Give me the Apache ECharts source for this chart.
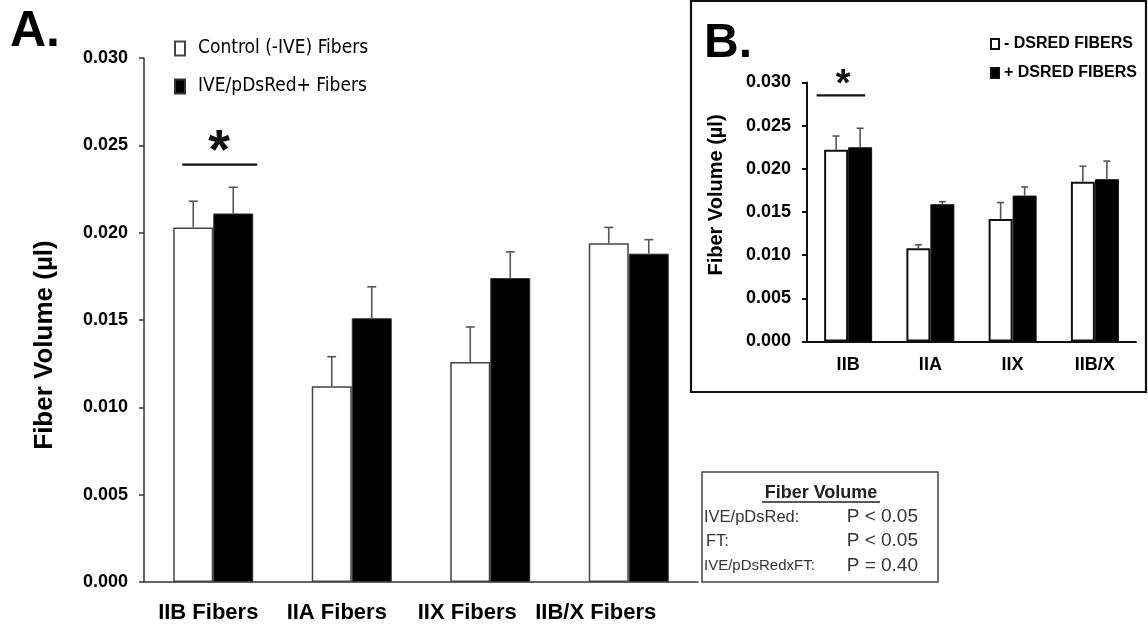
<!DOCTYPE html>
<html><head><meta charset="utf-8">
<script src="https://cdn.jsdelivr.net/npm/echarts@6.0.0/dist/echarts.min.js"></script>
<style>html,body{margin:0;padding:0;background:#fff}#c{width:1148px;height:630px}</style>
</head><body><div id="c"></div>
<script>
// ---- Data: panel A ----
const categoriesA = ['IIB Fibers', 'IIA Fibers', 'IIX Fibers', 'IIB/X Fibers'];
const controlA    = [0.0203, 0.0112, 0.0126, 0.0194];
const controlErrA = [0.0015, 0.0017, 0.0020, 0.0009];
const dsredA      = [0.0211, 0.0151, 0.0174, 0.0188];
const dsredErrA   = [0.0015, 0.0018, 0.0015, 0.0008];
// ---- Data: panel B ----
const categoriesB = ['IIB', 'IIA', 'IIX', 'IIB/X'];
const minusB      = [0.0222, 0.0108, 0.0142, 0.0185];
const minusErrB   = [0.0016, 0.0004, 0.0019, 0.0018];
const plusB       = [0.0225, 0.0159, 0.0169, 0.0188];
const plusErrB    = [0.0022, 0.0003, 0.0010, 0.0021];
// ---- Axis ----
const yMin = 0, yMax = 0.030, yStep = 0.005;
// ---- Significance (category index, bracket value, star value) ----
const sigA = [[0, 0.0239, 0.02456]];
const sigB = [[0, 0.0285, 0.0296]];
// ---- Stats text ----
const statsTitle = 'Fiber Volume';
const statsRows = [['IVE/pDsRed:', 'P < 0.05'], ['FT:', 'P < 0.05'], ['IVE/pDsRedxFT:', 'P = 0.40']];

// style: leftward shift (px) of each panel-A category label, as in the original layout
const labelShiftA = [5, 15, 23, 33];

const FONT = "'Liberation Sans', Arial, sans-serif";
const NARROW = "'Liberation Sans Narrow', 'DejaVu Sans Condensed', sans-serif";

function errData(vals, errs) { return vals.map((v, i) => [i, v, errs[i]]); }

function errSeries(name, vals, errs, axisIdx, offset, cap) {
  return {
    type: 'custom', name: name, xAxisIndex: axisIdx, yAxisIndex: axisIdx, z: 5,
    encode: { x: 0, y: 1 },
    data: errData(vals, errs),
    renderItem: function (params, api) {
      const c = api.value(0), v = api.value(1), e = api.value(2);
      const p0 = api.coord([c, v]);
      const p1 = api.coord([c, v + e]);
      const x = p0[0] + offset;
      const st = { stroke: '#555', lineWidth: 1.6 };
      return { type: 'group', children: [
        { type: 'line', shape: { x1: x, y1: p0[1], x2: x, y2: p1[1] }, style: st },
        { type: 'line', shape: { x1: x - cap, y1: p1[1], x2: x + cap, y2: p1[1] }, style: st }
      ]};
    }
  };
}

function sigSeries(data, axisIdx, left, right, starDx, starSize) {
  return {
    type: 'custom', xAxisIndex: axisIdx, yAxisIndex: axisIdx, z: 6,
    encode: { x: 0, y: 1 },
    data: data,
    renderItem: function (params, api) {
      const c = api.value(0);
      const p = api.coord([c, api.value(1)]);
      const s = api.coord([c, api.value(2)]);
      return { type: 'group', children: [
        { type: 'line', shape: { x1: p[0] + left, y1: p[1], x2: p[0] + right, y2: p[1] },
          style: { stroke: '#111', lineWidth: 2.2 } },
        { type: 'text', x: s[0] + starDx, y: s[1],
          style: { text: '*', fontSize: starSize, fontWeight: 'bold', fontFamily: FONT,
                   fill: '#111', align: 'center', verticalAlign: 'middle' } }
      ]};
    }
  };
}

const richA = {};
labelShiftA.forEach((s, i) => {
  richA['s' + i] = { fontSize: 22, fontWeight: 'bold', fontFamily: FONT, color: '#000', padding: [0, 2 * s, 0, 0] };
});

const yAxisCommon = {
  type: 'value', min: yMin, max: yMax, interval: yStep,
  splitLine: { show: false },
  axisLine: { show: true, lineStyle: { color: '#333', width: 1.5 } },
  axisTick: { show: true, length: 5, lineStyle: { color: '#333', width: 1.5 } },
  axisLabel: { formatter: v => v.toFixed(3), fontSize: 18, fontWeight: 'bold', fontFamily: FONT, color: '#000', margin: 16 }
};

const option = {
  animation: false,
  backgroundColor: '#fff',
  grid: [
    { left: 144, top: 58, width: 554, height: 524 },
    { left: 807, top: 82.5, width: 329, height: 259 }
  ],
  xAxis: [
    { type: 'category', gridIndex: 0, data: categoriesA,
      axisLine: { lineStyle: { color: '#333', width: 1.5 } },
      axisTick: { length: 6, lineStyle: { color: '#333', width: 1.5 } },
      axisLabel: { interval: 0, hideOverlap: false, fontSize: 22, fontWeight: 'bold', fontFamily: FONT, color: '#000', margin: 20,
                   formatter: (val, idx) => '{s' + idx + '|' + val + '}', rich: richA } },
    { type: 'category', gridIndex: 1, data: categoriesB,
      axisLine: { lineStyle: { color: '#111', width: 2 } },
      axisTick: { length: 6, lineStyle: { color: '#111', width: 2 } },
      axisLabel: { interval: 0, hideOverlap: false, fontSize: 18, fontWeight: 'bold', fontFamily: FONT, color: '#000', margin: 15 } }
  ],
  yAxis: [
    Object.assign({}, yAxisCommon, { gridIndex: 0 }),
    Object.assign({}, yAxisCommon, { gridIndex: 1,
      axisLine: { show: true, lineStyle: { color: '#111', width: 2 } },
      axisTick: { show: true, length: 5, lineStyle: { color: '#111', width: 2 } } })
  ],
  legend: [
    { orient: 'vertical', left: 174, top: 39, padding: 0, itemWidth: 10, itemHeight: 14, itemGap: 19, icon: 'rect',
      data: ['Control (-IVE) Fibers', 'IVE/pDsRed+ Fibers'],
      textStyle: { fontSize: 19, fontFamily: NARROW, color: '#000', padding: [0, 0, 0, 8] } },
    { orient: 'vertical', left: 990, top: 36, padding: 0, itemWidth: 8, itemHeight: 10, itemGap: 13, icon: 'rect',
      data: ['- DSRED FIBERS', '+ DSRED FIBERS'],
      textStyle: { fontSize: 16, fontWeight: 'bold', fontFamily: FONT, color: '#000' } }
  ],
  series: [
    { type: 'bar', name: 'Control (-IVE) Fibers', xAxisIndex: 0, yAxisIndex: 0, data: controlA,
      barWidth: 40, barGap: '0%', itemStyle: { color: '#fff', borderColor: '#444', borderWidth: 1.5 } },
    { type: 'bar', name: 'IVE/pDsRed+ Fibers', xAxisIndex: 0, yAxisIndex: 0, data: dsredA,
      barWidth: 40, barGap: '0%', itemStyle: { color: '#000', borderColor: '#333', borderWidth: 1 } },
    { type: 'bar', name: '- DSRED FIBERS', xAxisIndex: 1, yAxisIndex: 1, data: minusB,
      barWidth: 24, barGap: '0%', itemStyle: { color: '#fff', borderColor: '#111', borderWidth: 2 } },
    { type: 'bar', name: '+ DSRED FIBERS', xAxisIndex: 1, yAxisIndex: 1, data: plusB,
      barWidth: 24, barGap: '0%', itemStyle: { color: '#000', borderColor: '#111', borderWidth: 1 } },
    errSeries('errA1', controlA, controlErrA, 0, -20, 4.5),
    errSeries('errA2', dsredA, dsredErrA, 0, 20, 4.5),
    errSeries('errB1', minusB, minusErrB, 1, -12, 3.5),
    errSeries('errB2', plusB, plusErrB, 1, 12, 3.5),
    sigSeries(sigA, 0, -31, 44, 6, 56),
    sigSeries(sigB, 1, -31.5, 17, -5, 38)
  ],
  graphic: [
    { type: 'rect', z: 0, shape: { x: 691, y: 1, width: 455, height: 391 },
      style: { fill: 'none', stroke: '#111', lineWidth: 2.2 } },
    { type: 'text', left: 10, top: 7, style: { text: 'A.', fontSize: 50, fontWeight: 'bold', fontFamily: FONT, fill: '#000' } },
    { type: 'text', left: 704, top: 20, style: { text: 'B.', fontSize: 48, fontWeight: 'bold', fontFamily: FONT, fill: '#000' } },
    { type: 'text', x: 45, y: 345, rotation: Math.PI / 2,
      style: { text: 'Fiber Volume (µl)', fontSize: 26, fontWeight: 'bold', fontFamily: FONT, fill: '#000', align: 'center', verticalAlign: 'middle' } },
    { type: 'text', x: 716, y: 195, rotation: Math.PI / 2,
      style: { text: 'Fiber Volume (µl)', fontSize: 20, fontWeight: 'bold', fontFamily: FONT, fill: '#000', align: 'center', verticalAlign: 'middle' } },
    { type: 'rect', shape: { x: 702, y: 472, width: 236, height: 110 },
      style: { fill: '#fff', stroke: '#444', lineWidth: 1.5 } },
    { type: 'text', x: 821, y: 493, style: { text: statsTitle, fontSize: 18, fontWeight: 'bold', fontFamily: FONT, fill: '#222', align: 'center', verticalAlign: 'middle' } },
    { type: 'line', shape: { x1: 762, y1: 502, x2: 880, y2: 502 }, style: { stroke: '#222', lineWidth: 1.5 } },
    { type: 'text', x: 704, y: 517, style: { text: statsRows[0][0], fontSize: 16.5, fontFamily: FONT, fill: '#333', verticalAlign: 'middle' } },
    { type: 'text', x: 918, y: 517, style: { text: statsRows[0][1], fontSize: 19, fontFamily: FONT, fill: '#333', align: 'right', verticalAlign: 'middle' } },
    { type: 'text', x: 706, y: 541, style: { text: statsRows[1][0], fontSize: 16.5, fontFamily: FONT, fill: '#333', verticalAlign: 'middle' } },
    { type: 'text', x: 918, y: 541, style: { text: statsRows[1][1], fontSize: 19, fontFamily: FONT, fill: '#333', align: 'right', verticalAlign: 'middle' } },
    { type: 'text', x: 704, y: 566, style: { text: statsRows[2][0], fontSize: 15, fontFamily: FONT, fill: '#333', verticalAlign: 'middle' } },
    { type: 'text', x: 918, y: 566, style: { text: statsRows[2][1], fontSize: 19, fontFamily: FONT, fill: '#333', align: 'right', verticalAlign: 'middle' } }
  ]
};

const chart = echarts.init(document.getElementById('c'), null, { renderer: 'canvas' });
chart.setOption(option);
</script></body></html>
